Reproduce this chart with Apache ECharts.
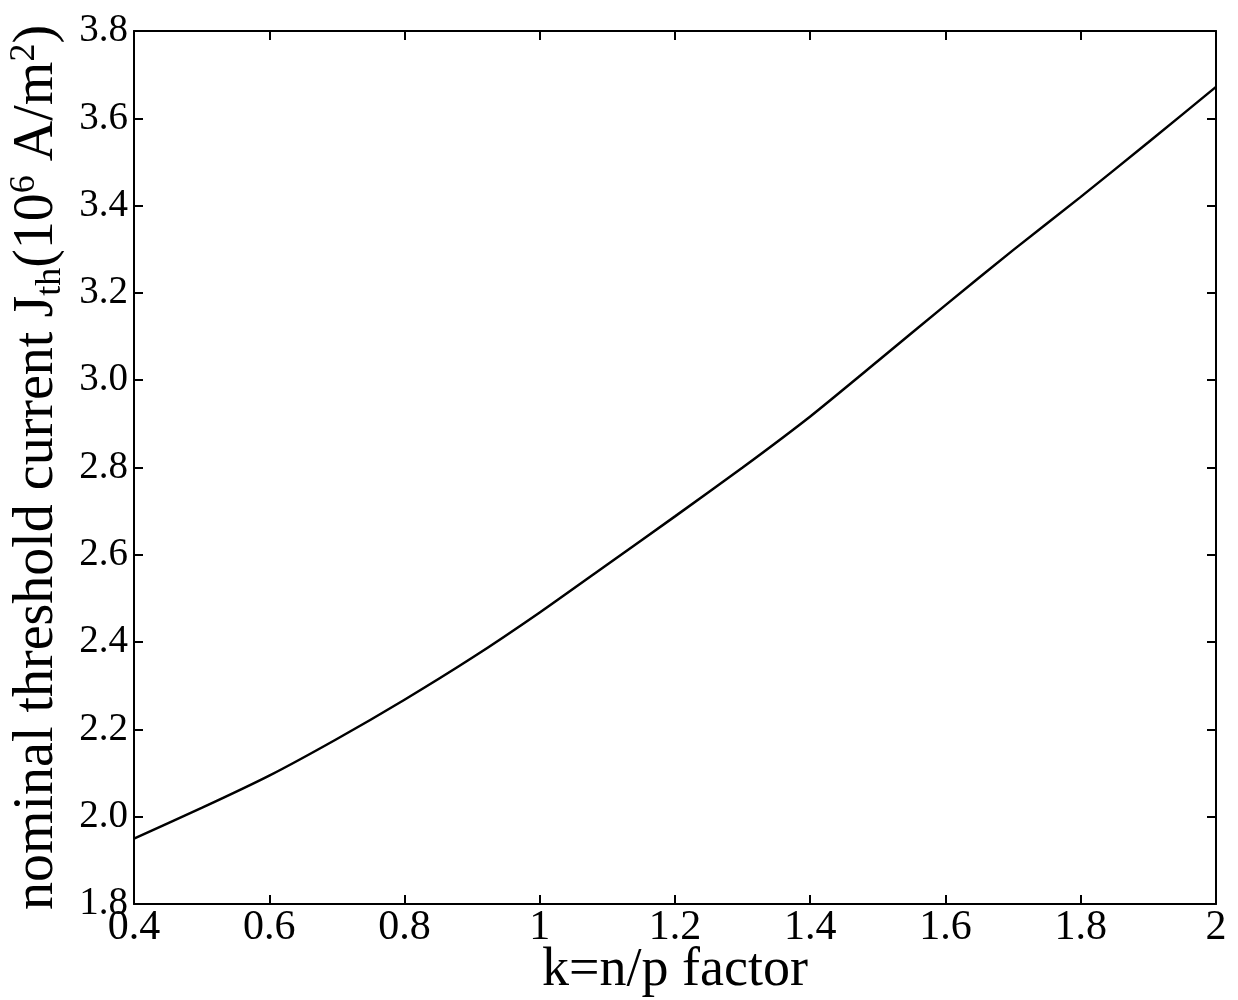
<!DOCTYPE html>
<html>
<head>
<meta charset="utf-8">
<script src="https://cdn.jsdelivr.net/npm/echarts@6/dist/echarts.min.js"></script>
<style>html,body{margin:0;padding:0;background:#fff;}#c{width:1238px;height:1000px;}</style>
</head>
<body>
<div id="c"></div>
<script>
var kValues = [0.4, 0.5, 0.6, 0.7, 0.8, 0.9, 1.0, 1.1, 1.2, 1.3, 1.4, 1.5, 1.6, 1.7, 1.8, 1.9, 2.0];
var jthValues = [1.95, 2.02, 2.094, 2.178, 2.268, 2.364, 2.468, 2.578, 2.688, 2.80, 2.917, 3.044, 3.172, 3.298, 3.42, 3.545, 3.672];
var xTitle = 'k=n/p factor';
var yTitle = '{b|nominal threshold current J}{sub|th}{b|(10}{sup|6}{b| A/m}{sup|2}{b|)}';

var chart = echarts.init(document.getElementById('c'));
var font = 'Liberation Serif';
var axisLine = {show: true, lineStyle: {color: '#000', width: 2}};
var tick = {show: true, inside: true, length: 9, lineStyle: {color: '#000', width: 2}};
chart.setOption({
  backgroundColor: '#fff',
  animation: false,
  grid: {left: 134, right: 22, top: 31, bottom: 96, containLabel: false, outerBoundsMode: 'none'},
  xAxis: [{
    type: 'value', min: 0.4, max: 2, interval: 0.2, position: 'bottom',
    axisLine: axisLine, axisTick: tick, splitLine: {show: false},
    axisLabel: {color: '#000', fontFamily: font, fontSize: 42, margin: 3,
      formatter: function (v) { return String(Math.round(v * 10) / 10); }},
    name: xTitle, nameLocation: 'middle', nameGap: 40, nameMoveOverlap: false,
    nameTextStyle: {color: '#000', fontFamily: font, fontSize: 54}
  }, {
    type: 'value', min: 0.4, max: 2, interval: 0.2, position: 'top',
    axisLine: axisLine, axisTick: tick, axisLabel: {show: false}, splitLine: {show: false}
  }],
  yAxis: [{
    type: 'value', min: 1.8, max: 3.8, interval: 0.2, position: 'left',
    axisLine: axisLine, axisTick: tick, splitLine: {show: false},
    axisLabel: {color: '#000', fontFamily: font, fontSize: 39, margin: 6,
      formatter: function (v) { return v.toFixed(1); }},
    name: yTitle, nameLocation: 'middle', nameGap: 62, nameRotate: 90,
    nameTextStyle: {color: '#000', fontFamily: font, fontSize: 56,
      rich: {
        b: {fontFamily: font, fontSize: 56, color: '#000', lineHeight: 62},
        sub: {fontFamily: font, fontSize: 36, color: '#000', lineHeight: 34, verticalAlign: 'bottom'},
        sup: {fontFamily: font, fontSize: 36, color: '#000', lineHeight: 34, verticalAlign: 'top'}
      }}
  }, {
    type: 'value', min: 1.8, max: 3.8, interval: 0.2, position: 'right',
    axisLine: axisLine, axisTick: tick, axisLabel: {show: false}, splitLine: {show: false}
  }],
  series: [{
    type: 'line', xAxisIndex: 0, yAxisIndex: 0,
    data: kValues.map(function (k, i) { return [k, jthValues[i]]; }),
    smooth: 0.2, showSymbol: false,
    lineStyle: {color: '#000', width: 2.5}
  }]
});
</script>
</body>
</html>
